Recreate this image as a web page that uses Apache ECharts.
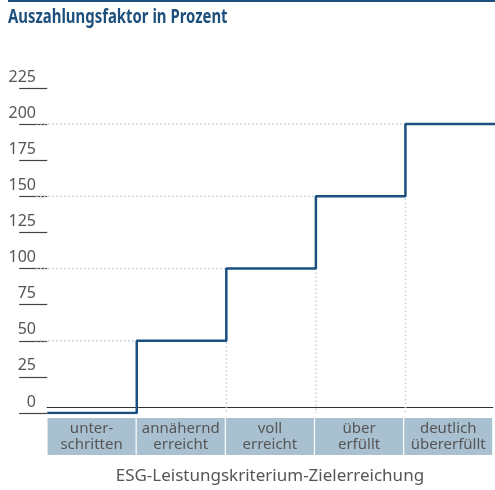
<!DOCTYPE html>
<html lang="de" style="height: 100%">
<head>
    <meta charset="UTF-8">
    <title>Auszahlungsfaktor</title>
    <script type="text/javascript" src="https://cdn.jsdelivr.net/npm/echarts@6/dist/echarts.min.js"></script>
</head>
<body style="height: 100%;margin: 0;background:#fff">

<div id="chart" style="width:495px;height:490px"></div>

<script type="text/javascript">
    // Kategorien der Zielerreichung und Auszahlungsfaktor je Stufe
    var categories = ['unter-\nschritten', 'annähernd\nerreicht', 'voll\nerreicht', 'über\nerfüllt', 'deutlich\nübererfüllt'];
    var payout = [0, 50, 100, 150, 200];
    var yTicks = [0, 25, 50, 75, 100, 125, 150, 175, 200, 225];

    var xMin = -0.125;

    // Treppenlinie
    var stepData = [];
    payout.forEach(function (v, i) {
        stepData.push([i, v]);
        stepData.push([i + 1, v]);
    });

    // gepunktete Hilfslinien
    var guideSeries = [];
    for (var k = 1; k < payout.length; k++) {
        guideSeries.push({
            type: 'line',
            xAxisIndex: 0,
            yAxisIndex: 0,
            symbol: 'none',
            silent: true,
            z: 1,
            lineStyle: {color: '#bccbd8', width: 1.5, type: [1.5, 2.5]},
            data: [[xMin, payout[k]], [k, payout[k]], [k, 0]]
        });
    }

    var chart = echarts.init(document.getElementById('chart'));
    var option = {
        animation: false,
        graphic: [{
            type: 'rect',
            shape: {x: 8, y: 0, width: 487, height: 2},
            style: {fill: '#1d4f7c'}
        }, {
            // schmale Titelschrift nachgebildet
            type: 'text',
            x: 8,
            y: 7,
            scaleX: 0.745,
            style: {
                text: 'Auszahlungsfaktor in Prozent',
                font: "bold 20px 'Noto Sans', sans-serif",
                fill: '#1d4f7c'
            }
        }],
        grid: [
            {left: 36, right: 0, top: 88, bottom: 77},
            {left: 47, right: 0, top: 88, bottom: 77}
        ],
        xAxis: [{
            type: 'value',
            gridIndex: 0,
            min: xMin,
            max: 5,
            show: false
        }, {
            type: 'category',
            gridIndex: 1,
            data: categories,
            boundaryGap: true,
            axisLine: {show: true, lineStyle: {color: '#333', width: 1}},
            axisTick: {show: false},
            splitLine: {show: false},
            axisLabel: {
                margin: 11,
                interval: 0,
                width: 88,
                lineHeight: 16,
                padding: [3, 0, 2, 0],
                align: 'center',
                backgroundColor: '#a9c0d0',
                color: '#555',
                fontFamily: "'Noto Sans', sans-serif",
                fontSize: 15
            },
            name: 'ESG-Leistungskriterium-Zielerreichung',
            nameLocation: 'middle',
            nameGap: 61,
            nameTextStyle: {
                color: '#555',
                fontFamily: "'Noto Sans', sans-serif",
                fontSize: 17,
                verticalAlign: 'top'
            }
        }],
        yAxis: [{
            type: 'value',
            gridIndex: 0,
            min: 0,
            max: 225,
            interval: 25,
            axisLine: {show: false},
            axisTick: {show: true, length: 28, lineStyle: {color: '#444', width: 1.2}},
            splitLine: {show: false},
            axisLabel: {
                margin: 0,
                align: 'right',
                verticalAlign: 'bottom',
                padding: [0, 0, 3, 0],
                color: '#555',
                fontFamily: "'Noto Sans', sans-serif",
                fontSize: 16,
                formatter: function (v) { return yTicks.indexOf(v) >= 0 ? String(v) : ''; }
            }
        }, {
            type: 'value',
            gridIndex: 1,
            min: 0,
            max: 225,
            show: false
        }],
        series: guideSeries.concat([{
            type: 'line',
            xAxisIndex: 0,
            yAxisIndex: 0,
            symbol: 'none',
            z: 3,
            lineStyle: {color: '#1a4f80', width: 2.5},
            data: stepData
        }])
    };
    chart.setOption(option);
</script>

</body>
</html>
